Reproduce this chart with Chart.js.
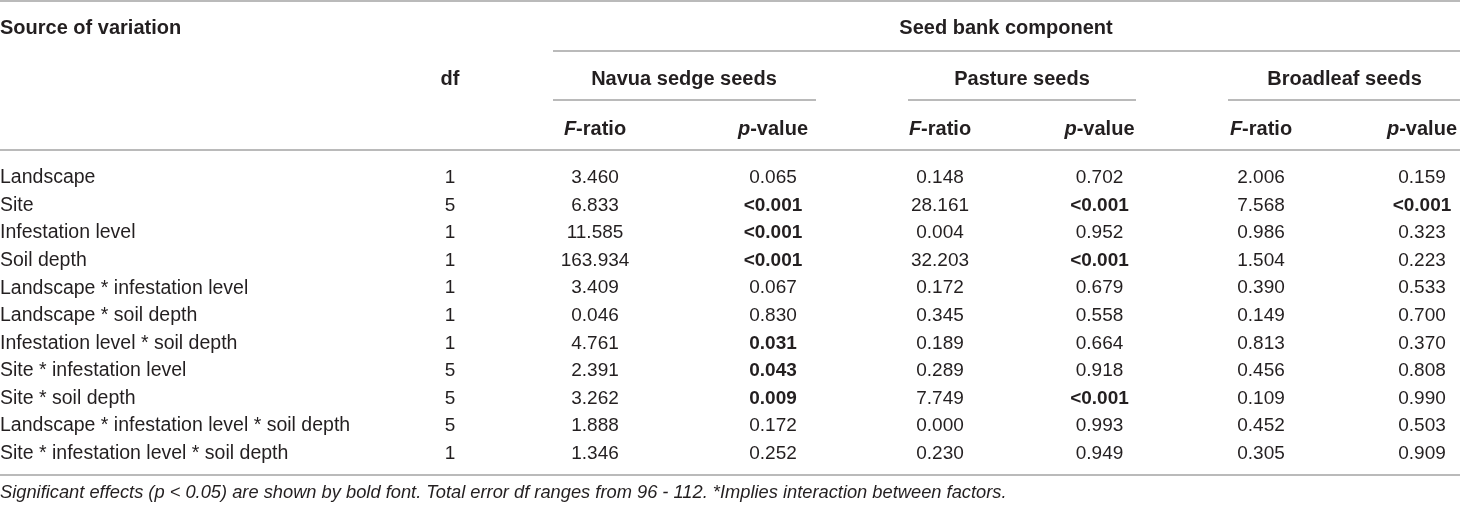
<!DOCTYPE html>
<html>
<head>
<meta charset="utf-8">
<script src="https://cdn.jsdelivr.net/npm/chart.js@4.4.0/dist/chart.umd.min.js"></script>
<style>
  html, body { margin: 0; padding: 0; background: #fff; }
  #wrap { width: 1460px; height: 505px; position: relative; }
</style>
</head>
<body>
<div id="wrap"><canvas id="tbl"></canvas></div>
<script>
// Table content
const sources = [
  'Landscape', 'Site', 'Infestation level', 'Soil depth',
  'Landscape * infestation level', 'Landscape * soil depth',
  'Infestation level * soil depth', 'Site * infestation level',
  'Site * soil depth', 'Landscape * infestation level * soil depth',
  'Site * infestation level * soil depth'
];
const dfValues  = [1, 5, 1, 1, 1, 1, 1, 5, 5, 5, 1];
const navuaF    = [3.460, 6.833, 11.585, 163.934, 3.409, 0.046, 4.761, 2.391, 3.262, 1.888, 1.346];
const navuaP    = ['0.065', '<0.001', '<0.001', '<0.001', '0.067', '0.830', '0.031', '0.043', '0.009', '0.172', '0.252'];
const pastureF  = [0.148, 28.161, 0.004, 32.203, 0.172, 0.345, 0.189, 0.289, 7.749, 0.000, 0.230];
const pastureP  = ['0.702', '<0.001', '0.952', '<0.001', '0.679', '0.558', '0.664', '0.918', '<0.001', '0.993', '0.949'];
const broadF    = [2.006, 7.568, 0.986, 1.504, 0.390, 0.149, 0.813, 0.456, 0.109, 0.452, 0.305];
const broadP    = ['0.159', '<0.001', '0.323', '0.223', '0.533', '0.700', '0.370', '0.808', '0.990', '0.503', '0.909'];
const groupNames = ['Navua sedge seeds', 'Pasture seeds', 'Broadleaf seeds'];
const footnote = 'Significant effects (p < 0.05) are shown by bold font. Total error df ranges from 96 - 112. *Implies interaction between factors.';

// Layout
const W = 1460, H = 505;
const ROW0 = 176, ROW_STEP = 27.56;
const toRow = px => (px - ROW0) / ROW_STEP;
const FAMILY = '"Liberation Sans", Arial, Helvetica, sans-serif';
const SIZE = 19, LABEL_SIZE = 19.5, HEAD_SIZE = 20, NOTE_SIZE = 18.3;
const DY = 2;  // 'middle' sits a bit high for this font
const TEXT = '#231f20';
const RULE = '#a3a3a3';
const colX = { label: 0, df: 450, nF: 595, nP: 773, pF: 940, pP: 1099.5, bF: 1261, bP: 1422 };
const groupX = [684, 1022, 1344.5];
const groupSpan = [[553, 816], [908, 1136], [1228, 1460]];

const isSig = s => s.startsWith('<') || parseFloat(s) < 0.05;
const f3 = v => v.toFixed(3);

const columns = [
  { key: 'label', values: sources,  fmt: v => v, align: 'left', size: LABEL_SIZE },
  { key: 'df',    values: dfValues, fmt: v => String(v) },
  { key: 'nF',    values: navuaF,   fmt: f3 },
  { key: 'nP',    values: navuaP,   fmt: v => v, boldIf: isSig },
  { key: 'pF',    values: pastureF, fmt: f3 },
  { key: 'pP',    values: pastureP, fmt: v => v, boldIf: isSig },
  { key: 'bF',    values: broadF,   fmt: f3 },
  { key: 'bP',    values: broadP,   fmt: v => v, boldIf: isSig }
];

const datasets = columns.map(c => ({
  label: c.key,
  data: c.values.map((v, i) => ({ x: colX[c.key], y: i })),
  texts: c.values.map(c.fmt),
  align: c.align || 'center',
  size: c.size || SIZE,
  boldIf: c.boldIf || null,
  pointRadius: 0,
  pointHoverRadius: 0
}));

function hline(ctx, x0, x1, y) {
  ctx.beginPath();
  ctx.moveTo(x0, y);
  ctx.lineTo(x1, y);
  ctx.stroke();
}

// italic letter + bold rest, centred as one piece
function mixedLabel(ctx, lead, rest, cx, cy) {
  const fi = 'italic bold ' + HEAD_SIZE + 'px ' + FAMILY;
  const fb = 'bold ' + HEAD_SIZE + 'px ' + FAMILY;
  ctx.font = fi;
  const w1 = ctx.measureText(lead).width;
  ctx.font = fb;
  const w2 = ctx.measureText(rest).width;
  const x0 = cx - (w1 + w2) / 2;
  ctx.textAlign = 'left';
  ctx.font = fi;
  ctx.fillText(lead, x0, cy);
  ctx.font = fb;
  ctx.fillText(rest, x0 + w1, cy);
}

const tablePlugin = {
  id: 'tableText',
  afterDatasetsDraw(chart) {
    const ctx = chart.ctx;
    const xs = chart.scales.x, ys = chart.scales.y;
    const X = v => xs.getPixelForValue(v);
    const Y = px => ys.getPixelForValue(toRow(px));
    ctx.save();
    ctx.fillStyle = TEXT;
    ctx.textBaseline = 'middle';

    // body cells
    chart.data.datasets.forEach((ds, di) => {
      const meta = chart.getDatasetMeta(di);
      meta.data.forEach((pt, j) => {
        const t = ds.texts[j];
        const bold = ds.boldIf && ds.boldIf(t);
        ctx.font = (bold ? 'bold ' : '') + ds.size + 'px ' + FAMILY;
        ctx.textAlign = ds.align;
        ctx.fillText(t, pt.x, pt.y + DY);
      });
    });

    // rules
    ctx.strokeStyle = RULE;
    ctx.lineWidth = 1.5;
    hline(ctx, X(0), X(W), Y(1));
    hline(ctx, X(553), X(W), Y(51));
    groupSpan.forEach(s => hline(ctx, X(s[0]), X(s[1]), Y(100)));
    hline(ctx, X(0), X(W), Y(150));
    hline(ctx, X(0), X(W), Y(475));

    // headers
    ctx.font = 'bold ' + HEAD_SIZE + 'px ' + FAMILY;
    ctx.textAlign = 'left';
    ctx.fillText('Source of variation', X(0), Y(26) + DY);
    ctx.textAlign = 'center';
    ctx.fillText('Seed bank component', X(1006), Y(26) + DY);
    ctx.fillText('df', X(colX.df), Y(77) + DY);
    groupNames.forEach((g, i) => ctx.fillText(g, X(groupX[i]), Y(77) + DY));
    ['nF', 'pF', 'bF'].forEach(k => mixedLabel(ctx, 'F', '-ratio', X(colX[k]), Y(127) + DY));
    ['nP', 'pP', 'bP'].forEach(k => mixedLabel(ctx, 'p', '-value', X(colX[k]), Y(127) + DY));

    // footnote
    ctx.font = 'italic ' + NOTE_SIZE + 'px ' + FAMILY;
    ctx.textAlign = 'left';
    ctx.fillText(footnote, X(0), Y(491) + DY);
    ctx.restore();
  }
};

new Chart(document.getElementById('tbl'), {
  type: 'scatter',
  data: { datasets },
  options: {
    responsive: true,
    maintainAspectRatio: false,
    animation: false,
    events: [],
    layout: { padding: 0 },
    plugins: { legend: { display: false }, tooltip: { enabled: false } },
    scales: {
      x: { type: 'linear', display: false, min: 0, max: W },
      y: { type: 'linear', display: false, reverse: true,
           min: toRow(0), max: toRow(H) }
    }
  },
  plugins: [tablePlugin]
});
</script>
</body>
</html>
